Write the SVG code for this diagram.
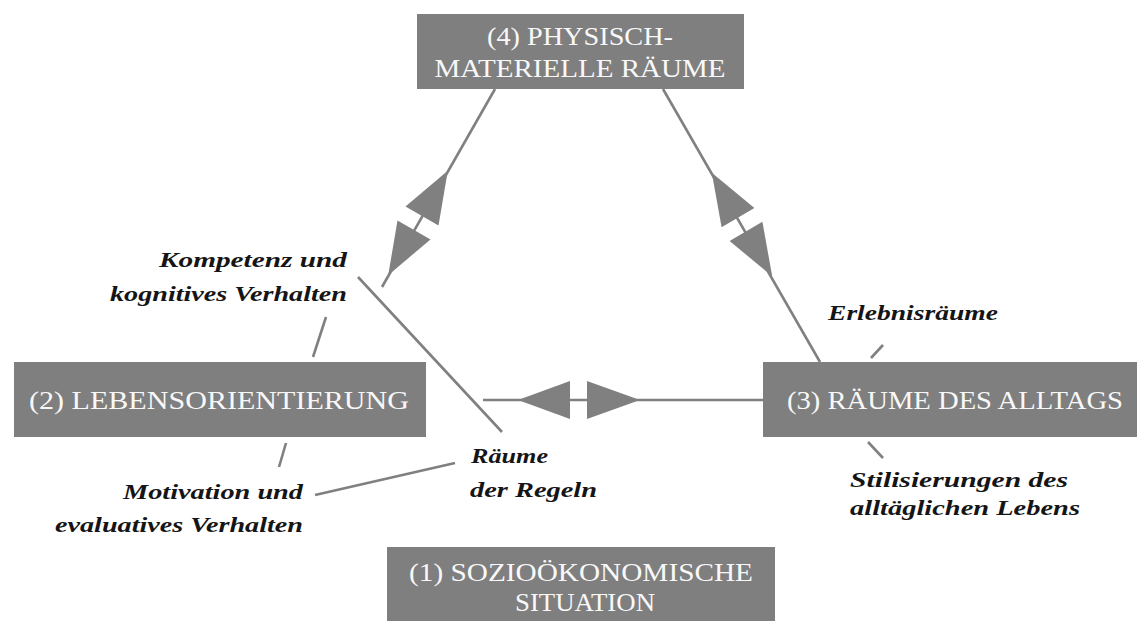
<svg xmlns="http://www.w3.org/2000/svg" width="1137" height="621" viewBox="0 0 1137 621">
<style>
.box{fill:#7f7f7f;}
.bt{font-family:"Liberation Serif","Times New Roman",serif;font-size:26px;fill:#f8f8f8;text-anchor:middle;}
.lb{font-family:"Liberation Serif","Times New Roman",serif;font-size:22px;font-style:italic;font-weight:bold;fill:#151515;}
.ln{stroke:#808080;stroke-width:2.6;fill:none;stroke-linecap:butt;}
.ah{fill:#808080;}
</style>
<rect width="1137" height="621" fill="#ffffff"/>
<g id="connectors">
  <line class="ln" x1="495" y1="89" x2="382" y2="287"/>
  <polygon class="ah" points="447.8,170.8 438.5,225.4 405.5,206.6"/>
  <polygon class="ah" points="388.2,275.2 430.5,239.4 397.5,220.6"/>
  <line class="ln" x1="663" y1="89" x2="820" y2="362"/>
  <polygon class="ah" points="711.8,172.7 754.4,208 721.6,227.2"/>
  <polygon class="ah" points="772.2,276.3 762.4,221.8 729.6,241"/>
  <line class="ln" x1="483" y1="400" x2="763" y2="400"/>
  <polygon class="ah" points="518,400 570,381 570,419"/>
  <polygon class="ah" points="640,400 587,381 587,419"/>
  <line class="ln" x1="358" y1="277" x2="502" y2="432"/>
  <line class="ln" x1="326" y1="317" x2="313" y2="357"/>
  <line class="ln" x1="286" y1="443" x2="279" y2="467"/>
  <line class="ln" x1="315" y1="495" x2="455" y2="463"/>
  <line class="ln" x1="883" y1="345" x2="871" y2="358"/>
  <line class="ln" x1="868" y1="442" x2="883" y2="458"/>
</g>
<g id="node4">
  <rect class="box" x="417" y="14" width="327" height="75"/>
  <text class="bt" x="580" y="45" textLength="186" lengthAdjust="spacingAndGlyphs">(4) PHYSISCH-</text>
  <text class="bt" x="580" y="77" textLength="291" lengthAdjust="spacingAndGlyphs">MATERIELLE RÄUME</text>
</g>
<g id="node2">
  <rect class="box" x="14" y="362" width="412" height="75"/>
  <text class="bt" x="219" y="409" textLength="380" lengthAdjust="spacingAndGlyphs">(2) LEBENSORIENTIERUNG</text>
</g>
<g id="node3">
  <rect class="box" x="763" y="362" width="374" height="75"/>
  <text class="bt" x="955" y="409" textLength="336" lengthAdjust="spacingAndGlyphs">(3) RÄUME DES ALLTAGS</text>
</g>
<g id="node1">
  <rect class="box" x="387" y="547" width="388" height="74"/>
  <text class="bt" x="581" y="581" textLength="344" lengthAdjust="spacingAndGlyphs">(1) SOZIOÖKONOMISCHE</text>
  <text class="bt" x="585" y="611" textLength="140" lengthAdjust="spacingAndGlyphs">SITUATION</text>
</g>
<g id="labels">
  <text class="lb" x="347" y="267" text-anchor="end" textLength="188" lengthAdjust="spacingAndGlyphs">Kompetenz und</text>
  <text class="lb" x="347" y="301" text-anchor="end" textLength="237" lengthAdjust="spacingAndGlyphs">kognitives Verhalten</text>
  <text class="lb" x="303" y="499" text-anchor="end" textLength="180" lengthAdjust="spacingAndGlyphs">Motivation und</text>
  <text class="lb" x="303" y="532" text-anchor="end" textLength="248" lengthAdjust="spacingAndGlyphs">evaluatives Verhalten</text>
  <text class="lb" x="471" y="463" textLength="77" lengthAdjust="spacingAndGlyphs">Räume</text>
  <text class="lb" x="470" y="497" textLength="127" lengthAdjust="spacingAndGlyphs">der Regeln</text>
  <text class="lb" x="828" y="320" textLength="170" lengthAdjust="spacingAndGlyphs">Erlebnisräume</text>
  <text class="lb" x="850" y="487" textLength="218" lengthAdjust="spacingAndGlyphs">Stilisierungen des</text>
  <text class="lb" x="850" y="515" textLength="230" lengthAdjust="spacingAndGlyphs">alltäglichen Lebens</text>
</g>
</svg>
